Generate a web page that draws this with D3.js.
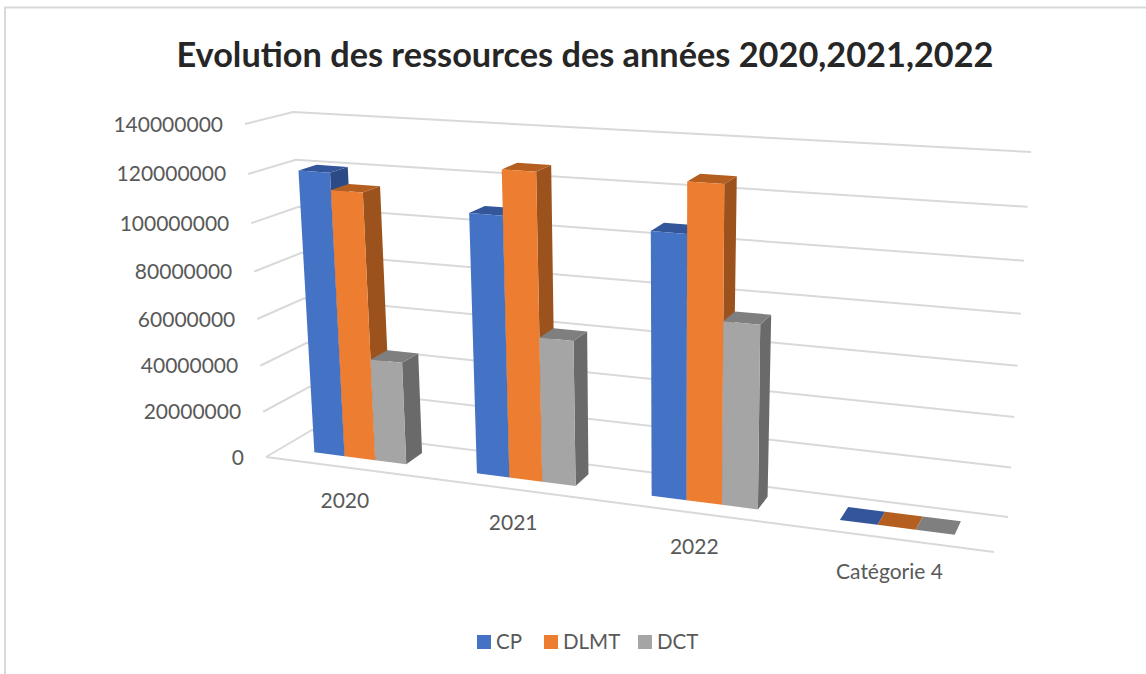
<!DOCTYPE html>
<html><head><meta charset="utf-8">
<script src="https://cdn.jsdelivr.net/npm/d3@7"></script>
<style>html,body{margin:0;background:#fff}svg{display:block}text{font-family:Lato,"Open Sans",sans-serif}</style>
</head><body><div id="c"></div>
<script>
const title = "Evolution des ressources des années 2020,2021,2022";
const categories = ["2020","2021","2022","Catégorie 4"];
const seriesNames = ["CP","DLMT","DCT"];
const CP   = [120500000,108500000,107000000,0];
const DLMT = [113500000,126700000,127000000,0];
const DCT  = [ 44000000, 60600000, 74300000,0];
const valueTicks = [0,20000000,40000000,60000000,80000000,100000000,120000000,140000000];
const values = [CP,DLMT,DCT];
const colors = {front:["#4472C4","#ED7D31","#A5A5A5"],side:["#2B4A86","#9B521C","#6A6A6A"],top:["#33559A","#B45F20","#7F7F7F"]};

const W=1146,H=674;
const svg=d3.select("#c").append("svg").attr("width",W).attr("height",H);

const box={f0:[[266,457],[994,552]],f1:[[245,124],[1008,175]],b0:[[312,430],[1008,517]],b1:[[293,112],[1031,152]]};
const lerp=(a,b,t)=>d3.interpolateNumber(a,b)(t);
const persp=w=>t=>t/(t+w*(1-t));
const catP=persp(1.16), valP=persp(1.06);
const tScale=d3.scaleLinear().domain([0,1]).range([0,1]);
const vScale=d3.scaleLinear().domain([0,140000000]).range([0,1]);
const catBand=d3.scaleBand().domain(categories).range([0,1]).paddingInner(0.426).paddingOuter(0.213);
const serBand=d3.scaleBand().domain(seriesNames).range([0,catBand.bandwidth()]);
const depthF=0.33, depthB=0.72;

function project(s,d,v){
  const t=catP(tScale(s)), h=valP(vScale(v));
  const pt=(k)=>{
    const f0=lerp(box.f0[0][k],box.f0[1][k],t), f1=lerp(box.f1[0][k],box.f1[1][k],t);
    const b0=lerp(box.b0[0][k],box.b0[1][k],t), b1=lerp(box.b1[0][k],box.b1[1][k],t);
    return lerp(lerp(f0,b0,d),lerp(f1,b1,d),h);
  };
  return [pt(0),pt(1)];
}
const line=d3.line();
const poly=pts=>line(pts)+"Z";

svg.append("path").attr("d","M5,674V7.5H1146").attr("fill","none").attr("stroke","#D9D9D9").attr("stroke-width",2);

const gl=svg.append("g").attr("fill","none").attr("stroke","#D9D9D9").attr("stroke-width",2);
valueTicks.forEach(v=>gl.append("path").attr("d",line([project(0,0,v),project(0,1,v),project(1,1,v)])));
gl.append("path").attr("d",line([project(0,0,0),project(1,0,0)]));

svg.append("g").selectAll("text").data(valueTicks).join("text")
  .attr("x",v=>project(0,0,v)[0]-22).attr("y",v=>project(0,0,v)[1]+7.5)
  .attr("text-anchor","end").attr("font-size",21).attr("fill","#595959").text(v=>d3.format("d")(v));

const bars=svg.append("g");
categories.forEach((c,i)=>{
  seriesNames.forEach((sn,j)=>{
    const v=values[j][i];
    const s0=catBand(c)+serBand(sn), s1=s0+serBand.bandwidth();
    const A=project(s0,depthF,0),B=project(s1,depthF,0),C=project(s1,depthF,v),D=project(s0,depthF,v);
    const B2=project(s1,depthB,0),C2=project(s1,depthB,v),D2=project(s0,depthB,v);
    if(v>0) bars.append("path").attr("d",poly([B,B2,C2,C])).attr("fill",colors.side[j]);
    bars.append("path").attr("d",poly([D,C,C2,D2])).attr("fill",colors.top[j]);
    if(v>0) bars.append("path").attr("d",poly([A,B,C,D])).attr("fill",colors.front[j]);
  });
});

svg.append("g").selectAll("text").data(categories).join("text")
  .attr("x",c=>project(catBand(c)+catBand.bandwidth()/2,0,0)[0]-1)
  .attr("y",c=>project(catBand(c)+catBand.bandwidth()/2,0,0)[1]+41)
  .attr("text-anchor","middle").attr("font-size",21).attr("fill","#595959").text(c=>c);

svg.append("text").attr("x",585).attr("y",67).attr("text-anchor","middle")
  .attr("font-size",34.3).attr("font-weight",700).attr("fill","#262626").text(title);

const legX=d3.scaleOrdinal().domain(seriesNames).range([477,544,638]);
const lg=svg.append("g").selectAll("g").data(seriesNames).join("g");
lg.append("rect").attr("x",d=>legX(d)).attr("y",635).attr("width",14).attr("height",14).attr("fill",(d,i)=>colors.front[i]);
lg.append("text").attr("x",d=>legX(d)+19).attr("y",649).attr("font-size",20.5).attr("fill","#595959").text(d=>d);
</script></body></html>
